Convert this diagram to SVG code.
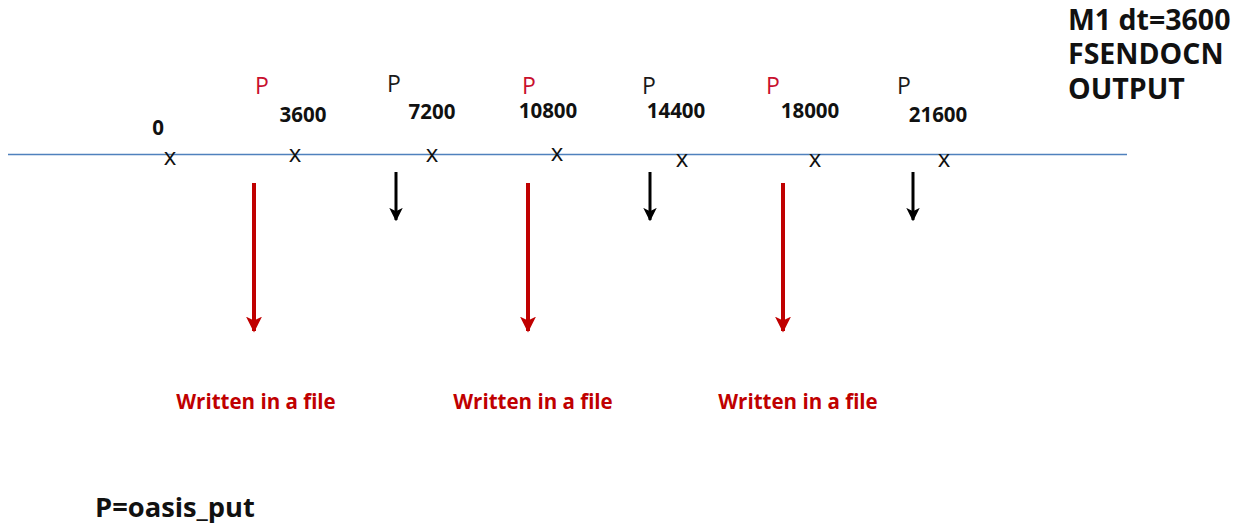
<svg xmlns="http://www.w3.org/2000/svg" width="1244" height="526" viewBox="0 0 1244 526">
<defs>
<marker id="redhead" viewBox="0 0 10 10" refX="9" refY="5" markerWidth="4" markerHeight="4" orient="auto" markerUnits="strokeWidth">
<path d="M0,0 L10,5 L0,10 L2.5,5 Z" fill="#c00000"/>
</marker>
<marker id="blackhead" viewBox="0 0 10 10" refX="9" refY="5" markerWidth="4.5" markerHeight="4.5" orient="auto" markerUnits="strokeWidth">
<path d="M0,0 L10,5 L0,10 L2.5,5 Z" fill="#000"/>
</marker>
</defs>
<style>
text{font-family:"Open Sans","Liberation Sans",sans-serif}
.p{font-size:23px;text-anchor:middle}
.red{fill:#c8102e}
.blk{fill:#1a1a1a}
.num{font-size:20.5px;font-weight:bold;text-anchor:middle;fill:#111}
.x{font-size:24px;text-anchor:middle;fill:#111}
.wr{font-size:20.5px;font-weight:bold;text-anchor:middle;fill:#c00000}
.hd{font-size:28.5px;font-weight:bold;fill:#111}
.ra{stroke:#c00000;stroke-width:4;fill:none}
.ba{stroke:#000;stroke-width:3;fill:none}
</style>
<rect width="1244" height="526" fill="#fff"/>
<g id="header">
<text class="hd" x="1068" y="30">M1 dt=3600</text>
<text class="hd" x="1068" y="64">FSENDOCN</text>
<text class="hd" x="1068" y="99">OUTPUT</text>
</g>
<g id="timeline">
<line x1="8" y1="154.5" x2="1127" y2="154.5" stroke="#4f81bd" stroke-width="1.5"/>
</g>
<g id="t0"><text class="num" x="158" y="135">0</text><text class="x" x="170" y="165">x</text></g>
<g id="t3600"><text class="p red" x="262" y="94">P</text><text class="num" x="303" y="122">3600</text><text class="x" x="295" y="162">x</text></g>
<g id="t7200"><text class="p blk" x="394" y="92">P</text><text class="num" x="432" y="119">7200</text><text class="x" x="432" y="162">x</text></g>
<g id="t10800"><text class="p red" x="529" y="94">P</text><text class="num" x="548" y="118">10800</text><text class="x" x="557" y="161">x</text></g>
<g id="t14400"><text class="p blk" x="649" y="94">P</text><text class="num" x="676" y="118">14400</text><text class="x" x="682" y="167">x</text></g>
<g id="t18000"><text class="p red" x="773" y="94">P</text><text class="num" x="810" y="118">18000</text><text class="x" x="815" y="167">x</text></g>
<g id="t21600"><text class="p blk" x="904" y="94">P</text><text class="num" x="938" y="122">21600</text><text class="x" x="944" y="167">x</text></g>
<g id="connectors">
<line class="ra" x1="254" y1="183" x2="254" y2="331" marker-end="url(#redhead)"/>
<line class="ra" x1="528" y1="183" x2="528" y2="331" marker-end="url(#redhead)"/>
<line class="ra" x1="783" y1="183" x2="783" y2="331" marker-end="url(#redhead)"/>
<line class="ba" x1="396" y1="172" x2="396" y2="220" marker-end="url(#blackhead)"/>
<line class="ba" x1="650" y1="172" x2="650" y2="220" marker-end="url(#blackhead)"/>
<line class="ba" x1="913" y1="172" x2="913" y2="220" marker-end="url(#blackhead)"/>
</g>
<g id="w1"><text class="wr" x="256" y="409">Written in a file</text></g>
<g id="w2"><text class="wr" x="533" y="409">Written in a file</text></g>
<g id="w3"><text class="wr" x="798" y="409">Written in a file</text></g>
<g id="legend"><text class="hd" x="95" y="517" style="font-size:27.3px">P=oasis_put</text></g>
</svg>
